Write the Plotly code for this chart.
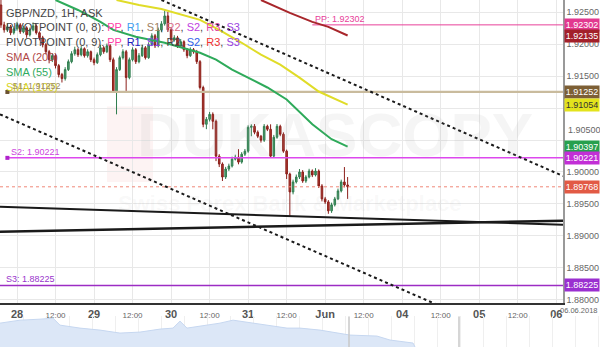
import plotly.graph_objects as go

# ---------------- data ----------------
# x = trading hours since 2018-05-28 00:00 (weekend removed: Jun 1 00:00 = 96, Jun 4 00:00 = 120)
start_hour = -5
first_open = 1.92613
closes = [
    1.92302, 1.92224, 1.92271, 1.92178, 1.92240,
    1.92302, 1.92193, 1.92255, 1.92146, 1.92224, 1.92286, 1.92178, 1.92100, 1.91991, 1.91882,
    1.91757, 1.91820, 1.91664, 1.91524, 1.91462, 1.91602, 1.91726, 1.91851, 1.91913, 1.91835,
    1.91929, 1.91820, 1.91882, 1.91757, 1.91711, 1.91835, 1.91944, 1.91882, 1.91975, 1.91757,
    1.91259, 1.91602, 1.91789, 1.91882, 1.91477, 1.91757, 1.91913, 1.91726, 1.91820, 1.91944,
    1.91789, 1.91991, 1.92131, 1.91975, 1.92224, 1.92318, 1.92442, 1.92224, 1.92069, 1.92100,
    1.91975, 1.92038, 1.91913, 1.91820, 1.91913, 1.91882, 1.91726, 1.91322, 1.90746, 1.90824,
    1.90902, 1.90793, 1.90248, 1.90124, 1.89921, 1.90046, 1.90093, 1.90201, 1.90233, 1.90155,
    1.90279, 1.90326, 1.90699, 1.90715, 1.90622, 1.90559, 1.90497, 1.90715, 1.90668, 1.90248,
    1.90544, 1.90715, 1.90590, 1.90326, 1.89968, 1.89688, 1.89844, 1.89921, 1.89999, 1.89859,
    1.89921, 1.90015, 1.89953, 1.90015, 1.89781, 1.89579, 1.89532, 1.89392, 1.89486, 1.89579,
    1.89704, 1.89844, 1.89797, 1.89768,
]
highs = [
    1.92691, 1.92350, 1.92320, 1.92300, 1.92280,
    1.92350, 1.92330, 1.92290, 1.92280, 1.92260, 1.92340, 1.92310, 1.92200, 1.92130, 1.92020,
    1.91910, 1.91860, 1.91850, 1.91690, 1.91550, 1.91640, 1.91760, 1.91890, 1.91960, 1.91940,
    1.91970, 1.91950, 1.91920, 1.91900, 1.91790, 1.91870, 1.91990, 1.91970, 1.92010, 1.92000,
    1.91790, 1.91640, 1.91820, 1.91920, 1.91910, 1.91790, 1.91950, 1.91940, 1.91860, 1.91990,
    1.91970, 1.92030, 1.92170, 1.92160, 1.92260, 1.92360, 1.92535, 1.92504, 1.92250, 1.92140,
    1.92130, 1.92080, 1.92060, 1.91940, 1.91950, 1.91940, 1.91910, 1.91750, 1.91350, 1.90860,
    1.90940, 1.90933, 1.90820, 1.90279, 1.90150, 1.90080, 1.90130, 1.90240, 1.90270, 1.90357,
    1.90310, 1.90360, 1.90730, 1.90746, 1.90750, 1.90650, 1.90580, 1.90750, 1.90740, 1.90746,
    1.90580, 1.90750, 1.90740, 1.90620, 1.90350, 1.89990, 1.89880, 1.89960, 1.90046, 1.90030,
    1.89950, 1.90050, 1.90040, 1.90060, 1.90040, 1.89810, 1.89610, 1.89560, 1.89520, 1.89610,
    1.89740, 1.89880, 1.90077, 1.89921,
]
lows = [
    1.92255, 1.92180, 1.92190, 1.92140, 1.92150,
    1.92210, 1.92160, 1.92170, 1.92100, 1.92120, 1.92200, 1.92150, 1.92060, 1.91950, 1.91840,
    1.91700, 1.91720, 1.91620, 1.91480, 1.91400, 1.91430, 1.91580, 1.91700, 1.91820, 1.91800,
    1.91810, 1.91790, 1.91790, 1.91720, 1.91670, 1.91690, 1.91810, 1.91850, 1.91860, 1.91720,
    1.91240, 1.90902, 1.91580, 1.91760, 1.91259, 1.91450, 1.91730, 1.91690, 1.91700, 1.91800,
    1.91760, 1.91770, 1.91970, 1.91940, 1.91950, 1.92190, 1.92290, 1.92190, 1.92030, 1.92040,
    1.91940, 1.91950, 1.91880, 1.91780, 1.91800, 1.91850, 1.91690, 1.91290, 1.90700, 1.90670,
    1.90790, 1.90668, 1.90170, 1.90077, 1.89859, 1.89890, 1.90015, 1.90070, 1.90180, 1.90120,
    1.90130, 1.90250, 1.90300, 1.90559, 1.90590, 1.90530, 1.90460, 1.90470, 1.90640, 1.90220,
    1.90220, 1.90520, 1.90560, 1.90300, 1.89890, 1.89299, 1.89650, 1.89820, 1.89890, 1.89830,
    1.89830, 1.89900, 1.89920, 1.89930, 1.89750, 1.89540, 1.89500, 1.89346, 1.89360, 1.89460,
    1.89560, 1.89680, 1.89760, 1.89579,
]
opens = [first_open] + closes[:-1]
hours = list(range(start_hour, start_hour + len(closes)))

sma200_hours = [76, 85, 92, 97, 103]
sma200_vals = [1.92691, 1.92489, 1.92349, 1.92271, 1.92135]
sma100_hours = [31, 38, 45, 57, 63, 70, 76, 82, 88, 94, 103]
sma100_vals = [1.92691, 1.92613, 1.92551, 1.92380, 1.92224, 1.92022, 1.91835, 1.91680, 1.91477, 1.91259, 1.91054]
sma55_hours = [12, 19, 26, 30, 37, 46, 57, 62, 67, 73, 78, 84, 92, 98, 103]
sma55_vals = [1.92691, 1.92535, 1.92349, 1.92224, 1.92115, 1.92022, 1.91866, 1.91757, 1.91602,
              1.91446, 1.91322, 1.91135, 1.90746, 1.90513, 1.90397]

upper_trend_hours = [45, 170.1]
upper_trend_vals = [1.92691, 1.89937]
lower_trend_hours = [-5.3, 131]
lower_trend_vals = [1.90902, 1.87920]
solid_a_hours = [-5.3, 170.1]
solid_a_vals = [1.89455, 1.89174]
solid_b_hours = [-5.3, 170.1]
solid_b_vals = [1.89065, 1.89237]

pp_level, s1_level, s2_level, s3_level = 1.92302, 1.91252, 1.90221, 1.88225
pp_start, s1_start, s2_start, s3_start = 92, -3, -3, -5.3
last_price = 1.89768

tick_hours = [0, 12, 24, 36, 48, 60, 72, 84, 96, 108, 120, 132, 144, 156, 168]
tick_labels = ['28', '12:00', '29', '12:00', '30', '12:00', '31', '12:00', 'Jun', '12:00',
               '04', '12:00', '05', '12:00', '06']

price_ticks = [1.880, 1.885, 1.890, 1.895, 1.900, 1.905, 1.910, 1.915, 1.920, 1.925]
hidden_price_ticks = [1.910]          # covered by the SMA(100) marker in the reference
shifted_price_ticks = [1.905]         # pushed up above the SMA(55) marker

nav_pos = [0, 20, 40, 53, 60, 80, 100, 120, 140, 160, 173, 180, 187, 200, 220, 233, 253, 270,
           287, 300, 320, 350, 377, 390, 413, 415]
nav_vals = [24, 27, 28, 29, 22, 19, 17, 14, 15, 18, 19, 26, 19, 21, 24, 27, 24, 21,
            19, 19, 17, 12, 11, 7, 4, 0]
nav_window = [349, 459]

X_MIN, X_MAX = -5.3, 170.1
Y_MIN, Y_MAX = 1.87946, 1.92691
FONT = "Liberation Sans, Arial, sans-serif"

# ---------------- figure ----------------
fig = go.Figure()

fig.add_trace(go.Candlestick(
    x=hours, open=opens, high=highs, low=lows, close=closes,
    increasing=dict(line=dict(color='#2f7d4f', width=1), fillcolor='#529e6f'),
    decreasing=dict(line=dict(color='#8c1f1a', width=1), fillcolor='#ad3a30'),
    whiskerwidth=0, hoverinfo='skip'))

def hline(level, start, color, width, dash='solid'):
    fig.add_trace(go.Scatter(x=[start, X_MAX], y=[level, level], mode='lines',
                             line=dict(color=color, width=width, dash=dash), hoverinfo='skip'))

hline(s3_level, s3_start, '#9c2cc4', 1.5)
hline(s1_level, s1_start, '#c9bb9d', 2.2)
hline(s2_level, s2_start, '#dd48ee', 1.5)
hline(pp_level, pp_start, '#e8409a', 1)
hline(last_price, X_MIN, '#f08878', 1, 'dot')

for hx, vy, col in [(s1_start, s1_level, '#6b5030'), (s2_start, s2_level, '#b022cc')]:
    fig.add_trace(go.Scatter(x=[hx], y=[vy], mode='markers',
                             marker=dict(color=col, size=4, symbol='square'), hoverinfo='skip'))

for hx, vy, w, d in [(upper_trend_hours, upper_trend_vals, 2, '3px,3px'),
                     (lower_trend_hours, lower_trend_vals, 2, '3px,3px'),
                     (solid_a_hours, solid_a_vals, 2, 'solid'),
                     (solid_b_hours, solid_b_vals, 2.6, 'solid')]:
    fig.add_trace(go.Scatter(x=hx, y=vy, mode='lines',
                             line=dict(color='#1a1a1a', width=w, dash=d), hoverinfo='skip'))

for hx, vy, col in [(sma200_hours, sma200_vals, '#a8262b'),
                    (sma100_hours, sma100_vals, '#e0dc28'),
                    (sma55_hours, sma55_vals, '#2eaa5a')]:
    fig.add_trace(go.Scatter(x=hx, y=vy, mode='lines', line=dict(color=col, width=2),
                             hoverinfo='skip'))

# navigator
fig.add_trace(go.Scatter(x=nav_pos, y=nav_vals, mode='lines', fill='tozeroy',
                         fillcolor='#dce7f7', line=dict(color='#c6d7f0', width=1),
                         xaxis='x2', yaxis='y2', hoverinfo='skip'))

ticktext = []
for t in tick_labels:
    if ':' in t:
        ticktext.append(f"<span style='font-size:8px;color:#666'>{t}</span>")
    else:
        ticktext.append(f"<b>{t}</b>")

price_ticktext = []
for v in price_ticks:
    if v in hidden_price_ticks or v in shifted_price_ticks:
        price_ticktext.append('')
    else:
        price_ticktext.append(f"{v:.5f}")

plot_right = 563 / 600
main_bottom = (349 - 305) / 349

fig.update_layout(
    width=600, height=349, margin=dict(l=0, r=0, t=0, b=0),
    paper_bgcolor='white', plot_bgcolor='white', showlegend=False,
    font=dict(family=FONT),
    xaxis=dict(domain=[0, plot_right], range=[X_MIN, X_MAX], anchor='y',
               tickmode='array', tickvals=tick_hours, ticktext=ticktext,
               tickfont=dict(size=11, color='#555'), ticks='',
               showgrid=True, gridcolor='#e8e8e8', gridwidth=1,
               showline=True, linecolor='#333', linewidth=1.5,
               zeroline=False, rangeslider=dict(visible=False), fixedrange=True),
    yaxis=dict(domain=[main_bottom, 1], range=[Y_MIN, Y_MAX], side='right', anchor='x',
               tickmode='array', tickvals=price_ticks, ticktext=price_ticktext,
               tickfont=dict(size=9, color='#666'), ticks='',
               showgrid=True, gridcolor='#e8e8e8', gridwidth=1,
               showline=True, linecolor='#999', linewidth=1.5, zeroline=False),
    xaxis2=dict(domain=[0, 1], range=[0, 600], anchor='y2', showticklabels=False,
                showgrid=True, gridcolor='#efefef', dtick=23, zeroline=False, ticks=''),
    yaxis2=dict(domain=[0, 31 / 349], range=[0, 31], visible=False),
)

shapes = []
for nx in nav_window:
    shapes.append(dict(type='line', xref='x2', yref='y2', x0=nx, x1=nx, y0=0, y1=31,
                       line=dict(color='#c8c8c8', width=1.5)))
# faint watermark logo
shapes.append(dict(type='rect', xref='paper', yref='paper', layer='below',
                   x0=107 / 600, x1=153 / 600, y0=1 - 183 / 349, y1=1 - 107 / 349,
                   fillcolor='rgba(225,90,90,0.07)', line=dict(width=0)))
fig.update_layout(shapes=shapes)

ann = []
def legend_line(text, ypx):
    ann.append(dict(xref='paper', yref='paper', x=4 / 600, y=1 - ypx / 349, xanchor='left',
                    yanchor='middle', text=text, showarrow=False,
                    font=dict(size=11, color='#444', family=FONT)))

def sp(t, c):
    return f"<span style='color:{c}'>{t}</span>"

legend_line("GBP/NZD, 1H, ASK", 13)
legend_line("PIVOTPOINT (0, 8): " + ", ".join([sp('PP', '#ff40a8'), sp('R1', '#3fa0f0'),
            sp('S1', '#a08060'), sp('R2', '#d86a88'), sp('S2', '#c040e0'),
            sp('R3', '#e040a0'), sp('S3', '#9940e0')]), 27)
legend_line("PIVOTPOINT (0, 9): " + ", ".join([sp('PP', '#ff40a8'), sp('R1', '#2222c0'),
            sp('S1', '#8840f0'), sp('R2', '#444'), sp('S2', '#3060e8'),
            sp('R3', '#f03030'), sp('S3', '#9940e0')]), 42)
legend_line(sp('SMA (200)', '#b04848'), 57)
legend_line(sp('SMA (55)', '#30aa60'), 72)
legend_line(sp('SMA (100)', '#d8d420'), 88)

# level labels
for hx, lv, txt, col in [(s1_start + 0.7, s1_level, f"S1: {s1_level:.5f}", '#9a8a6a'),
                         (s2_start + 0.5, s2_level, f"S2: {s2_level:.5f}", '#cc44dd'),
                         (s3_start + 1.3, s3_level, f"S3: {s3_level:.5f}", '#9933cc'),
                         (pp_start + 0.3, pp_level, f"PP: {pp_level:.5f}", '#e8409a')]:
    ann.append(dict(xref='x', yref='y', x=hx, y=lv, xanchor='left', yanchor='bottom',
                    text=txt, showarrow=False, font=dict(size=9, color=col, family=FONT),
                    yshift=-1))

# shifted axis tick label(s)
for v in shifted_price_ticks:
    ann.append(dict(xref='paper', yref='y', x=plot_right + 3 / 600, y=v, xanchor='left',
                    yanchor='middle', text=f"{v:.5f}", showarrow=False, yshift=10,
                    font=dict(size=9, color='#666', family=FONT)))

# right price markers
markers = [(pp_level, '#e2388f', 'white'), (sma200_vals[-1], '#a3202a', 'white'),
           (s1_level, '#7d5f35', 'white'), (sma100_vals[-1], '#e3e31c', '#333'),
           (sma55_vals[-1], '#27a04e', 'white'), (s2_level, '#c22fd6', 'white'),
           (last_price, '#e25a45', 'white'), (s3_level, '#9a2fd0', 'white')]
for lv, bg, fc in markers:
    ann.append(dict(xref='paper', yref='y', x=plot_right + 0.5 / 600, y=lv, xanchor='left',
                    yanchor='middle', text=f"{lv:.5f}", showarrow=False, bgcolor=bg,
                    width=32, height=10, borderpad=1,
                    font=dict(size=9, color=fc, family=FONT)))

ann.append(dict(xref='paper', yref='paper', x=600 / 600, y=1 - 312 / 349, xanchor='right',
                yanchor='middle', text='06.06.2018', showarrow=False,
                font=dict(size=7.5, color='#666', family=FONT)))

# watermark
ann.append(dict(xref='paper', yref='paper', x=335 / 600, y=1 - 135 / 349, xanchor='center',
                yanchor='middle', text='<b>DUKASCOPY</b>', showarrow=False,
                font=dict(size=62, color='rgba(160,160,160,0.10)', family=FONT)))
ann.append(dict(xref='paper', yref='paper', x=290 / 600, y=1 - 205 / 349, xanchor='center',
                yanchor='middle', text='<b>Swiss Forex Bank & Marketplace</b>', showarrow=False,
                font=dict(size=22, color='rgba(160,160,160,0.08)', family=FONT)))

fig.update_layout(annotations=ann)
fig.write_html("out.html")
